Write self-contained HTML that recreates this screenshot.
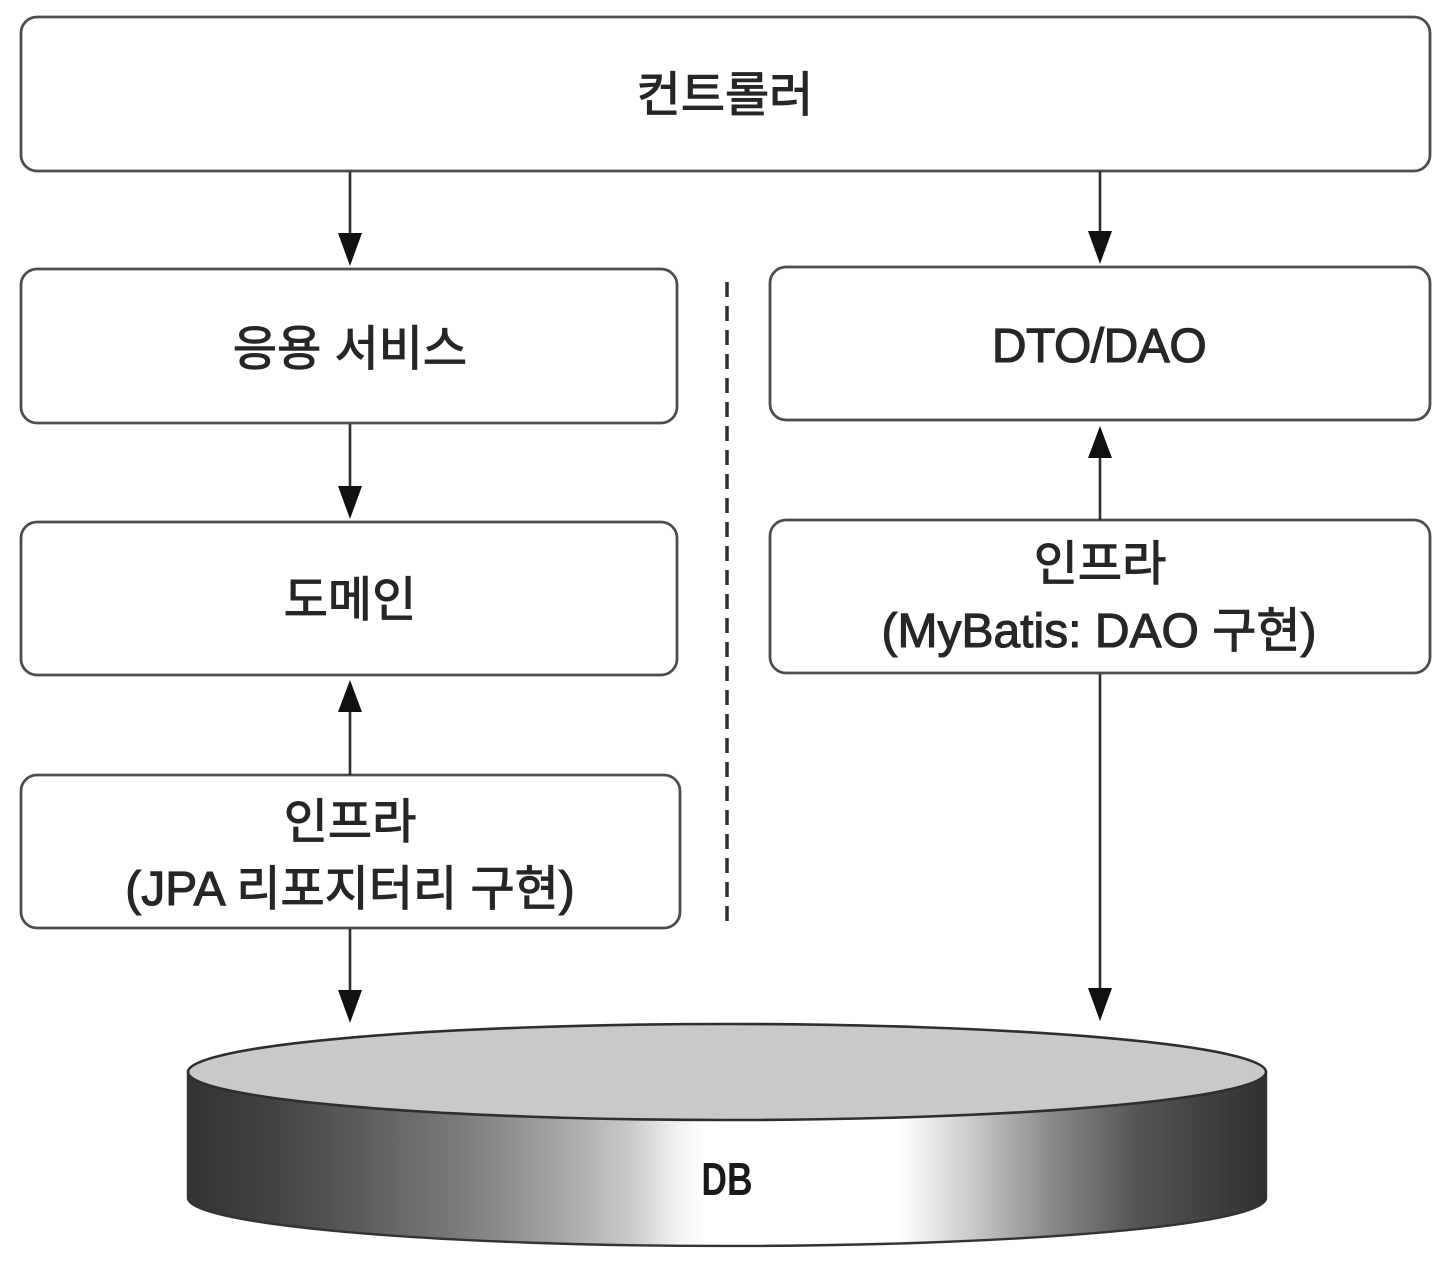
<!DOCTYPE html>
<html>
<head>
<meta charset="utf-8">
<style>
  html, body { margin:0; padding:0; background:#ffffff; }
  body { width:1454px; height:1272px; overflow:hidden; }
  svg { display:block; }
  .t { font-family:"Liberation Sans","Noto Sans CJK KR","NanumGothic",sans-serif; font-size:48px; fill:#262626; stroke:#262626; stroke-width:1.1; text-anchor:middle; }
</style>
</head>
<body>
<svg width="1454" height="1272" viewBox="0 0 1454 1272" xmlns="http://www.w3.org/2000/svg">
  <defs>
    <linearGradient id="body" x1="188" y1="0" x2="1266" y2="0" gradientUnits="userSpaceOnUse">
      <stop offset="0" stop-color="#333333"/>
      <stop offset="0.1" stop-color="#484848"/>
      <stop offset="0.25" stop-color="#7a7a7a"/>
      <stop offset="0.34" stop-color="#a3a3a3"/>
      <stop offset="0.41" stop-color="#c9c9c9"/>
      <stop offset="0.455" stop-color="#f2f2f2"/>
      <stop offset="0.48" stop-color="#ffffff"/>
      <stop offset="0.66" stop-color="#ffffff"/>
      <stop offset="0.72" stop-color="#d0d0d0"/>
      <stop offset="0.8" stop-color="#8a8a8a"/>
      <stop offset="0.88" stop-color="#555555"/>
      <stop offset="1" stop-color="#303030"/>
    </linearGradient>
  </defs>

  <!-- Boxes -->
  <g fill="#ffffff" stroke="#4d4d4d" stroke-width="2.8">
    <rect x="21" y="17" width="1409" height="154" rx="16" ry="16"/>
    <rect x="21" y="269" width="656" height="154" rx="16" ry="16"/>
    <rect x="770" y="267" width="660" height="153" rx="16" ry="16"/>
    <rect x="21" y="522" width="656" height="153" rx="16" ry="16"/>
    <rect x="770" y="520" width="660" height="153" rx="16" ry="16"/>
    <rect x="21" y="775" width="659" height="153" rx="16" ry="16"/>
  </g>

  <!-- Dashed separator -->
  <line x1="727" y1="282" x2="727" y2="928" stroke="#2e2e2e" stroke-width="3.5" stroke-dasharray="15 9"/>

  <!-- Arrows -->
  <g stroke="#2e2e2e" stroke-width="2.6">
    <line x1="350" y1="172" x2="350" y2="236"/>
    <line x1="1100" y1="171" x2="1100" y2="233"/>
    <line x1="350" y1="424" x2="350" y2="488"/>
    <line x1="350" y1="775" x2="350" y2="710"/>
    <line x1="350" y1="929" x2="350" y2="992"/>
    <line x1="1100" y1="520" x2="1100" y2="456"/>
    <line x1="1100" y1="674" x2="1100" y2="990"/>
  </g>
  <g fill="#111111">
    <polygon points="338,233 362,233 350,266"/>
    <polygon points="1088,231 1112,231 1100,264"/>
    <polygon points="338,486 362,486 350,519"/>
    <polygon points="338,712 362,712 350,680"/>
    <polygon points="338,990 362,990 350,1023"/>
    <polygon points="1088,458 1112,458 1100,426"/>
    <polygon points="1088,988 1112,988 1100,1021"/>
  </g>

  <!-- Cylinder DB -->
  <path d="M188,1072 L188,1198 A539,48 0 0 0 1266,1198 L1266,1072 Z" fill="url(#body)" stroke="#333333" stroke-width="2.4"/>
  <ellipse cx="727" cy="1072" rx="539" ry="48" fill="#c9c9c9" stroke="#2e2e2e" stroke-width="2.6"/>

  <!-- Labels -->
  <text class="t" x="725" y="111">컨트롤러</text>
  <text class="t" x="350" y="365">응용 서비스</text>
  <text class="t" x="1099" y="362" style="letter-spacing:-0.5px">DTO/DAO</text>
  <text class="t" x="350" y="616">도메인</text>
  <text class="t" x="1100" y="580">인프라</text>
  <text class="t" x="1099" y="647">(MyBatis: DAO 구현)</text>
  <text class="t" x="350" y="838">인프라</text>
  <text class="t" x="350" y="905">(JPA 리포지터리 구현)</text>
  <text x="0" y="0" transform="translate(727,1195) scale(0.77,1)" style="font-family:'Liberation Sans',sans-serif;font-size:46px;font-weight:bold;fill:#1a1a1a;text-anchor:middle;">DB</text>
</svg>
</body>
</html>
